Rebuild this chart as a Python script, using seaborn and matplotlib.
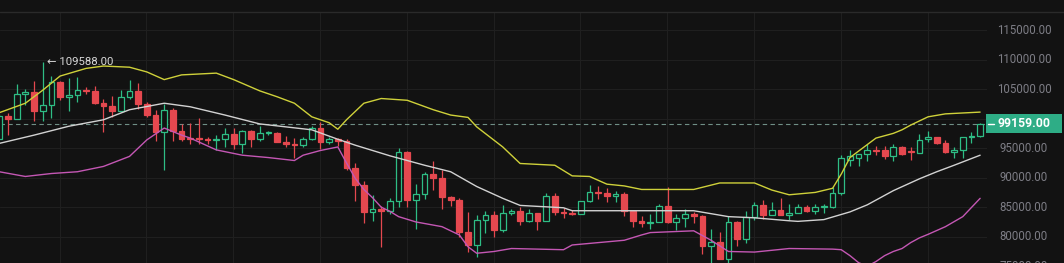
import numpy as np
import pandas as pd
import matplotlib
matplotlib.use("Agg")
import matplotlib.pyplot as plt
import seaborn as sns
from matplotlib.patches import Rectangle
from matplotlib.lines import Line2D

# ---------------- data ----------------
opens = [96500,100500,99990,104080,104560,101330,102260,106140,103650,103960,
         104820,104710,102620,102080,101330,103730,104730,102430,100640,97690,
         101400,97870,96620,96550,96500,96450,96460,97430,95780,97870,
         96610,97500,97570,96120,95770,95540,96620,98330,96120,96580,
         96250,91550,88700,84250,84710,84350,86060,94270,86220,87280,
         90610,89960,86740,86150,80730,78530,82860,83720,81070,84000,
         84330,82580,84080,82720,86850,84200,84080,83830,86080,87500,
         87390,86900,87220,84350,82600,82330,82550,85160,82520,83100,
         83840,83500,78370,79140,76270,82570,79630,83400,85290,83740,
         84560,83640,84030,84950,84300,85000,85000,87400,93000,93300,
         94000,94600,94600,93600,95200,94400,94200,96490,96910,95880,
         94320,94750,96830,97030]
highs = [100700,100900,105900,104990,106420,109588,107240,106330,106850,107120,
         105280,105500,103250,103780,104800,106460,106010,102780,101460,102500,
         101750,99000,99200,100140,96880,97300,98340,98480,98120,98000,
         98830,97970,97720,97040,96750,96900,98780,99480,96880,96670,
         96510,92540,89400,87000,85120,86570,95000,94430,88970,91000,
         92810,91220,86880,86500,84120,83620,84360,84300,85310,84670,
         85050,84760,84080,87450,87430,84800,84500,86100,88770,88540,
         88290,87790,87510,84570,83510,83870,85490,88500,83900,84720,
         84230,83750,81240,80870,83590,82700,84300,85860,86140,85800,
         86500,85470,85470,85300,85600,85500,88460,93850,94700,94030,
         95750,95300,95350,95620,95420,95200,97440,97900,96940,96340,
         95200,96880,97730,99300]
lows = [96500,97300,99950,102280,99650,99550,100120,103110,101250,102750,
        104110,102500,97780,100270,101330,103300,101560,100280,96150,91230,
        96150,96150,95700,95620,95690,94700,95250,94850,94090,95210,
        96250,97230,96040,95200,93390,95170,96380,94870,95690,95280,
        91370,86050,82260,82700,78260,83780,85050,85080,81390,86330,
        87850,84670,85210,80000,77460,76610,80660,79940,80800,83630,
        82020,82470,81130,82620,83650,83180,83650,83790,85940,86310,
        85860,85840,83590,81650,81560,81290,82430,82320,81160,81660,
        82370,77150,74510,76240,74620,78460,78940,82770,83030,83680,
        83600,82800,83950,84200,83900,84000,84900,87080,91930,91900,
        92870,93880,93150,92800,93780,92910,94130,96000,95760,94130,
        93380,93380,95800,96900]
closes = [100500,99990,104080,104560,101330,102260,106140,103650,103960,104820,
          104710,102620,102080,101330,103730,104730,102430,100640,97690,101400,
          97870,96620,96550,96500,96450,96460,97430,95780,97870,96610,
          97500,97570,96120,95770,95540,96620,98330,96120,96580,96250,
          91550,88700,84250,84710,84350,86060,94270,86220,87280,90610,
          89960,86740,86150,80730,78530,82860,83720,81070,84000,84330,
          82580,84080,82720,86850,84200,84080,83830,86080,87500,87390,
          86900,87220,84350,82600,82330,82550,85160,82520,83100,83840,
          83500,78370,79140,76270,82570,79630,83400,85290,83740,84560,
          83640,84030,84950,84300,85000,85050,87400,93300,93600,94000,
          94700,94450,93600,95200,94000,94300,96400,96910,95880,94320,
          94750,96830,97030,99159]

# Bollinger band readings (thousands USD) at candle indices
upper_idx = [0,3,5,7,10,12,15,17,19,21,25,27,30,32,34,36,38,39,40,42,44,47,50,52,54,
             55,58,60,64,66,68,70,72,74,80,83,87,89,91,94,96,97,98,100,101,103,104,105,107,109,113]
upper_val = [101.0,102.6,104.8,107.2,108.5,108.9,108.7,107.9,106.6,107.4,107.7,106.6,104.7,
             103.7,102.6,100.3,99.3,98.2,99.8,102.6,103.4,103.1,101.5,100.6,100.2,98.6,95.2,
             92.4,92.1,90.3,90.2,88.9,88.6,88.0,88.0,89.1,89.1,87.9,87.1,87.5,88.2,90.6,93.4,
             95.6,96.7,97.5,98.1,98.9,100.3,100.8,101.1]
middle_idx = [0,4,8,12,15,19,22,26,30,36,39,41,45,49,52,55,58,60,65,66,75,80,84,87,91,92,
              95,98,100,103,106,108,110,113]
middle_val = [95.8,97.2,98.7,99.8,101.5,102.6,102.0,100.6,99.1,98.1,96.5,95.5,93.7,92.1,91.0,
              88.5,86.5,85.3,84.9,84.4,84.4,84.4,83.4,83.2,82.7,82.6,82.9,84.2,85.4,87.8,89.8,
              91.0,92.1,93.8]
lower_idx = [0,3,6,9,12,15,17,19,21,22,25,28,31,34,35,37,39,40,41,42,43,44,45,46,48,51,53,
             54,55,57,59,65,66,69,72,74,75,80,82,84,87,91,96,97,98,99,100,101,102,103,104,105,
             106,107,109,111,113]
lower_val = [91.0,90.2,90.7,91.0,91.9,93.6,96.4,98.4,97.2,96.7,94.7,93.8,93.4,92.9,93.8,94.6,
             95.2,92.5,89.9,88.0,86.6,85.0,84.3,83.4,82.5,81.7,80.3,78.3,77.2,77.5,78.0,77.8,
             78.6,79.0,79.4,80.3,80.7,81.0,79.4,77.5,77.4,78.0,77.9,77.8,76.8,75.6,75.0,75.8,
             76.8,77.5,78.0,79.0,79.8,80.4,81.7,83.4,86.5]

tick_values = [115000, 110000, 105000, 95000, 90000, 85000, 80000, 75000]
tick_labels = ["115000.00", "110000.00", "105000.00", "95000.00", "90000.00",
               "85000.00", "80000.00", "75000.00"]
last_price = 99159
last_label = "99159.00"
high_idx = 5
high_value = 109588
high_label = "\u2190 109588.00"

# ---------------- style ----------------
BG = "#121212"
GRID = "#1f1f1f"
UP = "#2ebd85"
DOWN = "#e5484f"
sns.set_theme(style="dark", rc={"axes.facecolor": BG, "figure.facecolor": BG})
plt.rcParams["font.family"] = ["Roboto", "DejaVu Sans"]

W, H = 1064, 263
fig = plt.figure(figsize=(W / 100, H / 100), dpi=100)
ax = fig.add_axes([0, 0, 987 / W, 251 / H])
ax.set_facecolor(BG)
for s in ax.spines.values():
    s.set_visible(False)

df = pd.DataFrame({"o": opens, "h": highs, "l": lows, "c": closes})
df["i"] = np.arange(len(df))
up = df["c"] >= df["o"]

# grid
ax.set_yticks(tick_values + [100000])
ax.set_xticks(np.arange(7, 114, 10) - 0.05)
ax.grid(True, color=GRID, lw=0.8)
ax.tick_params(left=False, bottom=False, labelleft=False, labelbottom=False)

# wicks
for sel, col in ((up, UP), (~up, DOWN)):
    d = df[sel]
    ax.vlines(d["i"], d["l"], d["h"], color=col, lw=0.9, zorder=2)

# bodies
minh = 160
for sel, col, fc in ((up, UP, BG), (~up, DOWN, DOWN)):
    d = df[sel]
    bottom = np.minimum(d["o"], d["c"])
    height = np.maximum(np.abs(d["c"] - d["o"]), minh)
    ax.bar(d["i"], height, bottom=bottom, width=0.66, facecolor=fc, edgecolor=col,
           linewidth=0.9, zorder=3)

# bands
sns.lineplot(x=upper_idx, y=np.array(upper_val) * 1000, color="#cfd13a", lw=1.0, ax=ax, zorder=4)
sns.lineplot(x=middle_idx, y=np.array(middle_val) * 1000, color="#d2d2d2", lw=1.0, ax=ax, zorder=4)
sns.lineplot(x=lower_idx, y=np.array(lower_val) * 1000, color="#c457b4", lw=1.0, ax=ax, zorder=4)

# last price dashed line
ax.axhline(last_price, color="#6f8f86", lw=0.8, ls=(0, (4, 3)), zorder=1)

ax.set_xlim(0.0806, 113.79)
ax.set_ylim(75549, 118048)

# high annotation
ax.text(high_idx + 0.5, high_value, high_label, color="#d8d8d8", fontsize=8.2,
        va="center", ha="left", zorder=6)

# top separator line
fig.add_artist(Line2D([0, 1], [1 - 12 / H, 1 - 12 / H], color="#2a2a2a", lw=1.0,
                      transform=fig.transFigure))

# price axis labels
trans = matplotlib.transforms.blended_transform_factory(fig.transFigure, ax.transData)
for v, lab in zip(tick_values, tick_labels):
    ax.text(1024 / W, v, lab, transform=trans, color="#7d7d85", fontsize=8.3,
            ha="center", va="center", clip_on=False)

# last price label box
box_y0 = 1 - 133 / H
box_h = 19 / H
fig.add_artist(Rectangle((986 / W, box_y0), 76 / W, box_h, transform=fig.transFigure,
                         facecolor="#2ead86", edgecolor="none", zorder=5))
fig.add_artist(Line2D([988 / W, 994 / W], [1 - 123.5 / H, 1 - 123.5 / H], color="white",
                      lw=1.0, transform=fig.transFigure, zorder=6))
fig.text(1024 / W, 1 - 123.5 / H, last_label, color="white", fontsize=8.8, fontweight="bold",
         ha="center", va="center", zorder=7)

fig.savefig("out.png", dpi=100, facecolor=BG)
